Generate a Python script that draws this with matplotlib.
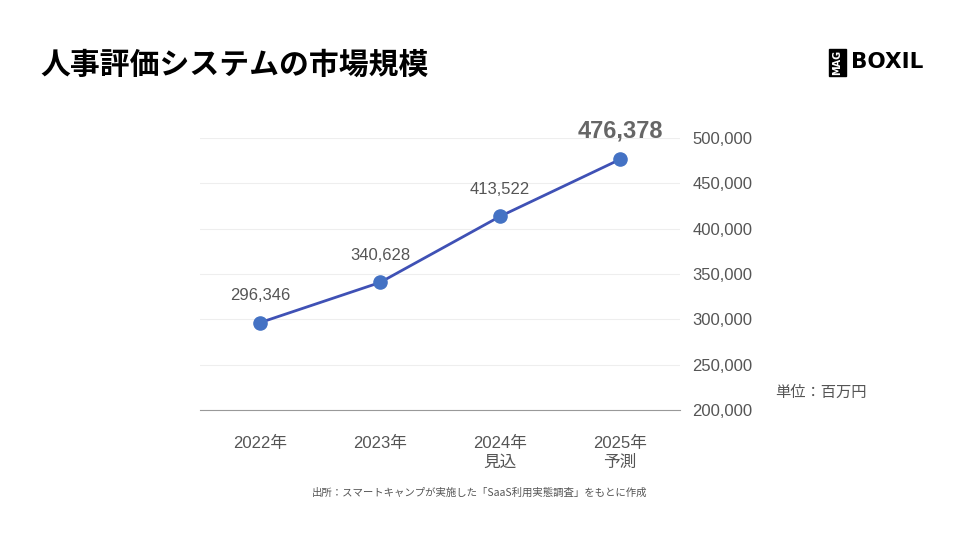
import matplotlib.pyplot as plt
from matplotlib.patches import Rectangle

plt.rcParams['font.family'] = ['Liberation Sans', 'Noto Sans CJK JP', 'DejaVu Sans']

years = ["2022年", "2023年", "2024年\n見込", "2025年\n予測"]
values = [296346, 340628, 413522, 476378]
yticks = [200000, 250000, 300000, 350000, 400000, 450000, 500000]

fig = plt.figure(figsize=(9.6, 5.4), dpi=100)
ax = fig.add_axes([200/960, 1-410/540, 480/960, 272/540])

x = list(range(len(values)))
ax.plot(x, values, color="#3f51b5", lw=2, zorder=3)
ax.scatter(x, values, s=90, color="#4472c4", zorder=4)
for i, v in enumerate(values):
    last = i == len(values) - 1
    ax.annotate(f"{v:,}", (i, v), xytext=(0, 12 if last else 14), textcoords="offset points",
                ha="center", va="bottom", color="#666666" if last else "#555555",
                fontsize=17 if last else 12, fontweight="bold" if last else "normal")

ax.set_xlim(-0.5, 3.5)
ax.set_ylim(200000, 500000)
ax.set_yticks(yticks)
ax.set_yticklabels([f"{t:,}" for t in yticks])
ax.yaxis.tick_right()
ax.set_xticks(x)
ax.set_xticklabels(years)
ax.tick_params(length=0, labelsize=12, labelcolor="#555555")
ax.tick_params(axis="y", pad=9)
ax.tick_params(axis="x", pad=19)
for lbl in ax.get_xticklabels():
    lbl.set_linespacing(1.25)
ax.grid(axis="y", color="#eeeeee", lw=0.8)
for s in ["top", "left", "right"]:
    ax.spines[s].set_visible(False)
ax.spines["bottom"].set_color("#999999")

fig.text(40/960, 1-65/540, "人事評価システムの市場規模", fontsize=21.5, fontweight="bold",
         va="center", family="Noto Sans CJK JP")
fig.text(775/960, 1-392/540, "単位：百万円", fontsize=11, color="#555555", va="center",
         family="Noto Sans CJK JP")
fig.text(480/960, 1-493/540, "出所：スマートキャンプが実施した「SaaS利用実態調査」をもとに作成",
         fontsize=7.5, color="#555555", ha="center", va="center", family="Noto Sans CJK JP")

# logo
fig.patches.append(Rectangle((829/960, 1-76/540), 17/960, 27/540, transform=fig.transFigure,
                             color="black"))
fig.text(837.5/960, 1-62.5/540, "MAG", rotation=90, color="white", fontsize=7, fontweight="bold",
         ha="center", va="center", family="DejaVu Sans")
fig.text(851/960, 1-62/540, "BOXIL", fontsize=15.5, fontweight="bold", va="center",
         family="DejaVu Sans")

fig.savefig("out.png")
